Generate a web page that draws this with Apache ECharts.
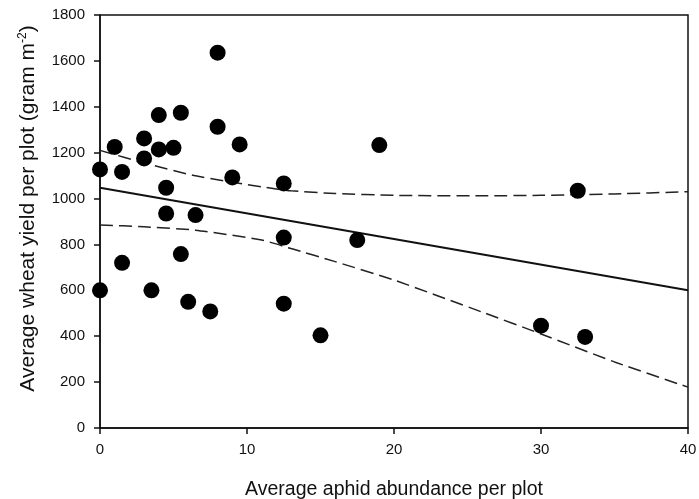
<!DOCTYPE html>
<html>
<head>
<meta charset="utf-8">
<script src="https://cdn.jsdelivr.net/npm/echarts@6/dist/echarts.min.js"></script>
<style>
  html, body { margin: 0; padding: 0; background: #fff; }
  #chart { width: 699px; height: 499px; }
</style>
</head>
<body>
<div id="chart"></div>
<script>
  // observed plots: aphid abundance vs wheat yield
  const aphids = [0, 0, 1, 1.5, 1.5, 3, 3, 3.5, 4, 4, 4.5, 4.5, 5, 5.5, 5.5, 6, 6.5, 7.5, 8, 8, 9, 9.5, 12.5, 12.5, 12.5, 15, 17.5, 19, 30, 32.5, 33];
  const yields = [1127, 600, 1225, 1116, 720, 1262, 1175, 600, 1364, 1214, 1047, 935, 1221, 1374, 758, 550, 928, 508, 1636, 1313, 1092, 1236, 1066, 830, 542, 404, 819, 1233, 446, 1034, 397];

  // fitted regression line and 95% confidence band
  const fitX = [0, 40];
  const fitY = [1047, 600];
  const bandX = [0, 3, 6.5, 11, 13, 16, 20, 26, 30, 35, 40];
  const upperY = [1210, 1155, 1099, 1051, 1034, 1022, 1014, 1012, 1014, 1020, 1030];
  const lowerY = [885, 877, 862, 819, 782, 725, 645, 505, 410, 288, 178];

  const chart = echarts.init(document.getElementById('chart'));

  const pair = (xs, ys) => xs.map((x, i) => [x, ys[i]]);
  const txt = { fontFamily: 'Liberation Sans, Arial, sans-serif', color: '#111' };

  const option = {
    animation: false,
    grid: {
      left: 100, right: 11, top: 15, bottom: 71,
      outerBoundsMode: 'none',
      show: true, borderColor: '#111', borderWidth: 1.5
    },
    xAxis: {
      type: 'value', min: 0, max: 40, interval: 10,
      name: 'Average aphid abundance per plot',
      nameLocation: 'middle', nameGap: 52,
      nameTextStyle: Object.assign({ fontSize: 19.5 }, txt),
      axisLine: { lineStyle: { color: '#111', width: 1.5 } },
      axisTick: { inside: false, length: 6, lineStyle: { color: '#111', width: 1.5 } },
      axisLabel: Object.assign({ fontSize: 15, margin: 14 }, txt),
      splitLine: { show: false }
    },
    yAxis: {
      type: 'value', min: 0, max: 1800, interval: 200,
      name: 'Average wheat yield per plot (gram m{sup|-2})',
      nameLocation: 'middle', nameGap: 61, nameRotate: 90,
      nameTextStyle: Object.assign({
        fontSize: 21,
        padding: [0, 0, 0, 26],
        rich: { sup: Object.assign({ fontSize: 12, verticalAlign: 'bottom', padding: [0, 0, 10, 0] }, txt) }
      }, txt),
      axisLine: { show: true, lineStyle: { color: '#111', width: 1.5 } },
      axisTick: { show: true, length: 6, lineStyle: { color: '#111', width: 1.5 } },
      axisLabel: Object.assign({ fontSize: 15, margin: 15, formatter: (v) => String(v) }, txt),
      splitLine: { show: false }
    },
    series: [
      {
        type: 'line', data: pair(fitX, fitY), showSymbol: false, symbol: 'none',
        lineStyle: { color: '#111', width: 2 }, z: 2
      },
      {
        type: 'line', data: pair(bandX, upperY), showSymbol: false, symbol: 'none', smooth: 0.2,
        lineStyle: { color: '#222', width: 1.5, type: [13, 6] }, z: 2
      },
      {
        type: 'line', data: pair(bandX, lowerY), showSymbol: false, symbol: 'none', smooth: 0.2,
        lineStyle: { color: '#222', width: 1.5, type: [13, 6] }, z: 2
      },
      {
        type: 'scatter', data: pair(aphids, yields), symbol: 'circle', symbolSize: 16,
        itemStyle: { color: '#000', opacity: 1 }, z: 3
      }
    ]
  };

  chart.setOption(option);
</script>
</body>
</html>
